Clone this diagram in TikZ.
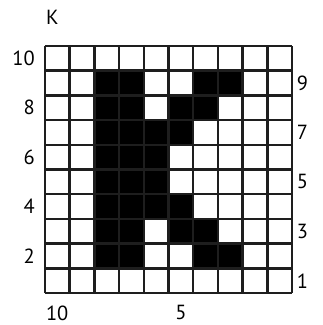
\documentclass[tikz,border=0pt]{standalone}
\usepackage{fontspec}
\setmainfont{PT Sans}
\usepackage{xcolor}
\definecolor{gridline}{HTML}{1E1E1E}
\definecolor{ink}{HTML}{000000}
\begin{document}
\begin{tikzpicture}[
    x=0.744cm, y=0.744cm,
    gridlines/.style={draw=gridline, line width=2.1pt},
    pixel/.style={fill=ink},
    numlab/.style={font=\fontsize{17.5}{20}\selectfont, text=ink, inner sep=0pt}
  ]
    \useasboundingbox (-1.815,-1.29) rectangle (11.21,11.855);

    % dark pixels of the letter
    \foreach \c/\r in {3/9,4/9,7/9,8/9, 3/8,4/8,6/8,7/8,
                       3/7,4/7,5/7,6/7, 3/6,4/6,5/6, 3/5,4/5,5/5,
                       3/4,4/4,5/4,6/4, 3/3,4/3,6/3,7/3, 3/2,4/2,7/2,8/2}
      \fill[pixel] (\c-1,\r-1) rectangle (\c,\r);

    % grid
    \foreach \i in {0,...,10} {
      \draw[gridlines] (\i,0) -- (\i,10);
      \draw[gridlines] (0,\i) -- (10,\i);
    }

    % row numbers
    \foreach \n in {10,8,6,4,2}
      \node[numlab, anchor=east] (left\n) at (-0.4,\n-0.5) {\n};
    \foreach \n in {9,7,5,3,1}
      \node[numlab, anchor=west] (right\n) at (10.18,\n-0.5) {\n};

    % column numbers
    \node[numlab] (col10) at (0.5,-0.8) {10};
    \node[numlab] (col5) at (5.5,-0.8) {5};

    \node[numlab] (title) at (0.3,11.17) {K};
  \end{tikzpicture}
\end{document}
